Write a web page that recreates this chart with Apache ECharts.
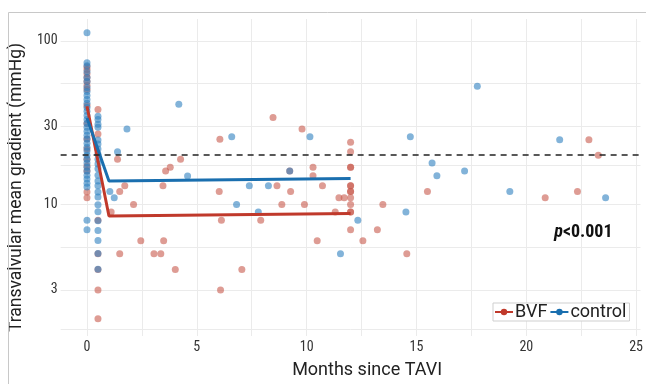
<!DOCTYPE html>
<html>
<head>
<meta charset="utf-8">
<script src="https://cdn.jsdelivr.net/npm/echarts@6/dist/echarts.min.js"></script>
<style>
  html, body { margin: 0; padding: 0; background: #fff; }
  #chart { width: 646px; height: 384px; }
</style>
</head>
<body>
<div id="chart"></div>
<script>
// axis ticks
var xTicks = [0, 5, 10, 15, 20, 25];
var xGrid = [0, 2.5, 5, 7.5, 10, 12.5, 15, 17.5, 20, 22.5, 25];
var yTicks = [3, 10, 30, 100];
var yGrid = [1.73, 3, 5.48, 10, 17.3, 30, 54.8, 100];
var threshold = [20];

// mean curves (months, mmHg)
var meanMonths = [0, 1, 12];
var bvfMean = [39.8, 8.5, 8.8];
var ctrlMean = [33.8, 13.9, 14.4];

// individual measurements - BVF
var bvfX = [
  0, 0, 0, 0, 0, 0, 0, 0, 0, 0, 0, 0, 0, 0, 0, 0,
  0.5, 0.5, 0.5, 0.5, 0.5, 0.5, 0.5,
  1.1, 1.39, 1.49, 1.49, 1.72, 2.12, 2.45, 3.05, 3.36, 3.46, 3.49, 3.58, 3.79, 4.02, 4.26,
  6.02, 6.05, 6.08, 6.12, 7.05, 7.91, 8.47, 8.65, 8.87, 9.23, 9.27, 9.79, 9.9,
  10.29, 10.29, 10.48, 10.72, 11.3, 11.47, 11.71,
  12, 12, 12, 12, 12, 12, 12, 12, 12, 12, 12, 12, 12,
  12.56, 13.22, 13.47, 14.56, 15.5, 20.86, 22.33, 22.85, 23.28
];
var bvfY = [
  69.5, 66.7, 63, 59.6, 56.4, 53.3, 50.4, 40.3, 31.3, 25.1, 21.8, 18.9, 17.2, 16, 11.9, 11.0,
  38.1, 27, 8.0, 5.0, 4.0, 3.0, 2.0,
  9.0, 18.9, 12.0, 5.0, 13.0, 10.0, 6.0, 5.0, 5.0, 13.0, 6.0, 16.0, 16.9, 4.0, 18.9,
  12.0, 25.0, 3.0, 8.0, 4.0, 8.0, 34.0, 13.0, 10.0, 16.0, 12.0, 28.9, 10.0,
  16.9, 15.0, 6.0, 13.0, 9.0, 11.0, 11.0,
  24.0, 21.0, 16.9, 16.9, 13.0, 13.0, 12.0, 12.0, 11.0, 10.0, 9.0, 9.0, 7.0,
  6.0, 7.0, 10.0, 5.0, 12.0, 11.0, 12.0, 24.9, 20.0
];

// individual measurements - control
var ctrlX = [
  0, 0, 0, 0, 0, 0, 0, 0, 0, 0, 0, 0, 0, 0, 0, 0, 0, 0, 0, 0, 0, 0, 0, 0, 0, 0, 0, 0, 0, 0, 0, 0, 0, 0,
  0.5, 0.5, 0.5, 0.5, 0.5, 0.5, 0.5, 0.5, 0.5, 0.5, 0.5, 0.5, 0.5, 0.5, 0.5, 0.5, 0.5, 0.5, 0.5, 0.5, 0.5, 0.5, 0.5,
  1.04, 1.24, 1.39, 1.82, 4.18, 4.58, 6.59, 6.81, 7.39, 7.8, 8.26, 9.23, 10.15, 11.54, 12.33,
  14.52, 14.72, 15.71, 15.93, 17.19, 17.77, 19.25, 21.52, 23.61
];
var ctrlY = [
  112, 73.5, 70.5, 64.8, 59.6, 56.4, 51.8, 49, 46.4, 43.8, 41.5, 39.2, 37.1, 35, 33.1, 31.3, 29.6,
  28, 26.5, 25.1, 23.7, 22.4, 21.2, 20, 18.9, 17.9, 16.9, 16, 15.1, 14.3, 13.5, 12.8, 8.0, 7.0,
  34.6, 33.1, 30.9, 29.6, 24.8, 23.4, 21.8, 20.3, 18.9, 17.7, 16.5, 15.1, 13.9, 13.0, 11.9, 11.1,
  9.96, 9.03, 7.96, 6.92, 6.02, 5.02, 4.01,
  12.0, 11.0, 21.0, 28.9, 40.9, 14.9, 25.9, 10.0, 13.0, 9.0, 13.0, 16.0, 25.9, 5.0, 8.0,
  9.0, 25.9, 17.9, 15.0, 16.0, 52.8, 12.0, 24.9, 11.0
];

var bvfCol = '#c0392b';
var ctrlCol = '#1a6faf';
var narrow = "'Liberation Sans Narrow', 'Roboto Condensed', 'DejaVu Sans Condensed', sans-serif";

function zip(xs, ys) {
  return xs.map(function (x, i) { return [x, ys[i]]; });
}

var chart = echarts.init(document.getElementById('chart'));

chart.setOption({
  animation: false,
  backgroundColor: '#fff',
  grid: { left: 56, right: 1, top: 19, bottom: 46 },
  xAxis: {
    type: 'value',
    min: -1.2,
    max: 25.2,
    name: 'Months since TAVI',
    nameLocation: 'middle',
    nameGap: 25,
    nameTextStyle: { fontFamily: 'Roboto', fontSize: 18, color: '#222', padding: [0, 0, 0, 33] },
    axisLine: { show: false },
    axisTick: { show: false, customValues: xGrid },
    axisLabel: { customValues: xTicks, fontFamily: narrow, fontSize: 14, color: '#333', margin: 4 },
    splitLine: { show: true, lineStyle: { color: '#ebebeb', width: 1 } }
  },
  yAxis: {
    type: 'log',
    logBase: 10,
    min: 1.57,
    max: 136,
    name: 'Transvalvular mean gradient (mmHg)',
    nameLocation: 'middle',
    nameGap: 23,
    nameTextStyle: { fontFamily: 'Roboto', fontSize: 17.5, color: '#222', padding: [0, 20, 0, 0] },
    axisLine: { show: false },
    axisTick: { show: false, customValues: yGrid },
    axisLabel: { customValues: yTicks, fontFamily: narrow, fontSize: 14, color: '#333', margin: 3 },
    splitLine: { show: true, lineStyle: { color: '#ebebeb', width: 1 } }
  },
  legend: {
    data: ['BVF', 'control'],
    left: 493,
    top: 303,
    orient: 'horizontal',
    itemWidth: 18,
    itemHeight: 8,
    itemGap: 2,
    padding: [0, 3, 0, 1],
    borderColor: '#cfcfcf',
    borderWidth: 1,
    backgroundColor: '#fff',
    textStyle: { fontFamily: 'Roboto', fontSize: 18, color: '#222', padding: [0, 0, 0, -3], lineHeight: 18 }
  },
  series: [
    {
      name: 'BVF points',
      type: 'scatter',
      data: zip(bvfX, bvfY),
      symbolSize: 7,
      itemStyle: { color: '#c85a4d', opacity: 0.6 },
      z: 2
    },
    {
      name: 'control points',
      type: 'scatter',
      data: zip(ctrlX, ctrlY),
      symbolSize: 7,
      itemStyle: { color: '#2f80c0', opacity: 0.6 },
      z: 2,
      markLine: {
        silent: true,
        symbol: 'none',
        label: { show: false },
        lineStyle: { color: '#222', type: [6, 5], width: 1.5 },
        data: threshold.map(function (v) { return { yAxis: v }; })
      }
    },
    {
      name: 'BVF',
      type: 'line',
      data: zip(meanMonths, bvfMean),
      showSymbol: false,
      symbol: 'circle',
      symbolSize: 5,
      itemStyle: { color: bvfCol },
      lineStyle: { color: bvfCol, width: 3 },
      z: 4
    },
    {
      name: 'control',
      type: 'line',
      data: zip(meanMonths, ctrlMean),
      showSymbol: false,
      symbol: 'circle',
      symbolSize: 5,
      itemStyle: { color: ctrlCol },
      lineStyle: { color: ctrlCol, width: 3 },
      z: 4
    }
  ]
});

// p-value annotation anchored in data space, figure frame
var pPos = chart.convertToPixel({ gridIndex: 0 }, [22.6, 6.7]);
chart.setOption({
  graphic: [
    {
      type: 'rect',
      silent: true,
      shape: { x: 8.5, y: 12.5, width: 700, height: 400 },
      style: { fill: null, stroke: '#c8c8c8', lineWidth: 1 },
      z: 100
    },
    {
      type: 'text',
      x: pPos[0],
      y: pPos[1],
      z: 100,
      style: {
        text: '{i|p}{b|<0.001}',
        align: 'center',
        verticalAlign: 'middle',
        rich: {
          i: { fontFamily: narrow, fontSize: 18, fontWeight: 'bold', fontStyle: 'italic', fill: '#111' },
          b: { fontFamily: narrow, fontSize: 18, fontWeight: 'bold', fill: '#111' }
        }
      }
    }
  ]
});
</script>
</body>
</html>
